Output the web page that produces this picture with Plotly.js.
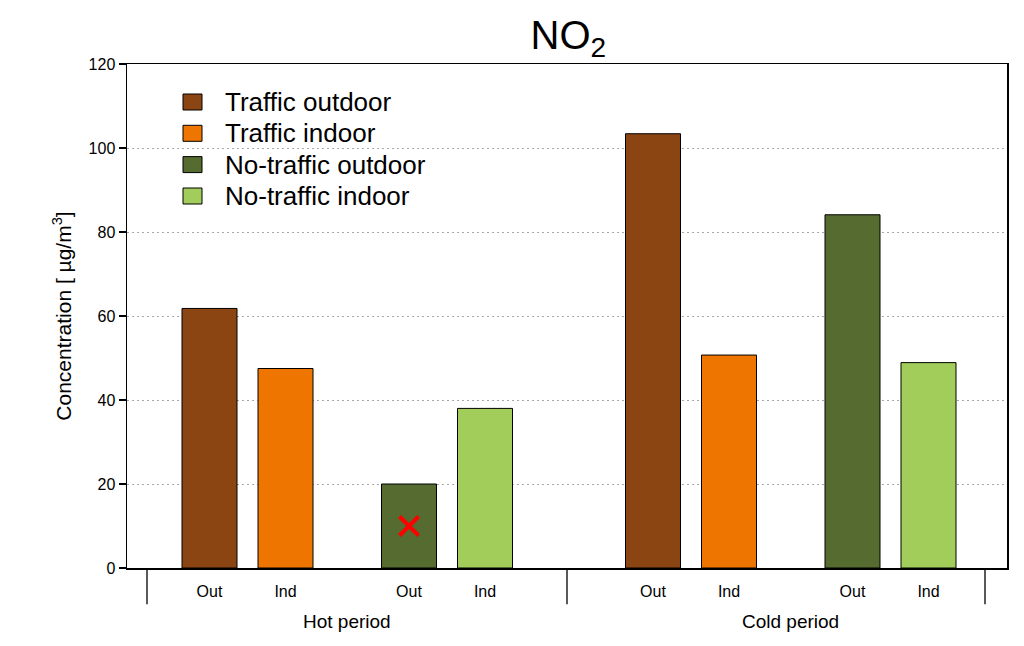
<!DOCTYPE html>
<html>
<head>
<meta charset="utf-8">
<script src="https://cdn.plot.ly/plotly-3.0.1.min.js"></script>
<style>html,body{margin:0;padding:0;background:#fff;}#chart{width:1024px;height:646px;}</style>
</head>
<body>
<div id="chart"></div>
<script>
// ---- data ----
var periods = ["Hot period", "Cold period"];
var seriesNames = ["Traffic outdoor", "Traffic indoor", "No-traffic outdoor", "No-traffic indoor"];
var tickLabels = ["Out", "Ind", "Out", "Ind"];
var trafficOutdoor = [61.8, 103.4];
var trafficIndoor = [47.5, 50.7];
var noTrafficOutdoor = [20.0, 84.1];
var noTrafficIndoor = [38.0, 48.9];
var markerValue = [10.0]; // red cross in hot-period no-traffic outdoor
var colors = ["#8B4513", "#EE7600", "#556B2F", "#A2CD5A"];

// ---- layout helpers (positions in axis units) ----
var X0 = 82.5, GROUP = 443.5, SUB = 199.5, ITEM = 76, BARW = 55;
function pos(g, s, i) { return X0 + g * GROUP + s * SUB + i * ITEM; }
var allSeries = [trafficOutdoor, trafficIndoor, noTrafficOutdoor, noTrafficIndoor];

var traces = [];
allSeries.forEach(function (vals, k) {
  var s = Math.floor(k / 2), i = k % 2;
  traces.push({
    type: "bar",
    x: periods.map(function (p, g) { return pos(g, s, i); }),
    y: vals,
    width: BARW,
    marker: { color: colors[k], line: { color: "#000", width: 1 } },
    name: seriesNames[k],
    showlegend: false,
    hoverinfo: "y"
  });
});
traces.push({
  type: "scatter", mode: "markers",
  x: [pos(0, 1, 0)], y: markerValue, showlegend: false,
  marker: { symbol: "x-thin", size: 19, color: "#ff0000", line: { color: "#ff0000", width: 4 } },
  hoverinfo: "y"
});

var tickvals = [], ticktext = [];
for (var g = 0; g < 2; g++) for (var s = 0; s < 2; s++) for (var i = 0; i < 2; i++) {
  tickvals.push(pos(g, s, i)); ticktext.push(tickLabels[s * 2 + i]);
}

// plot area geometry for paper coordinates
var PL = 127, PW = 880, PB = 568, PH = 504;
function px(x) { return (x - PL) / PW; }
function py(y) { return (PB - y) / PH; }

var separators = [20, 440, 858];
var shapes = separators.map(function (x) {
  return { type: "line", xref: "x", yref: "paper", x0: x, x1: x, y0: 0, y1: -0.072,
           line: { color: "#000", width: 1.3 } };
});
var groupCenters = [(pos(0,0,0) + pos(0,1,1)) / 2, (pos(1,0,0) + pos(1,1,1)) / 2];
var annotations = periods.map(function (p, g) {
  return { text: p, xref: "x", yref: "paper", x: groupCenters[g], y: py(621), yanchor: "middle",
           showarrow: false, font: { size: 19, color: "#000" } };
});

// manual legend (inside plot, top-left)
var legendRows = [102, 133.3, 164.6, 196];
seriesNames.forEach(function (n, k) {
  var cy = legendRows[k];
  shapes.push({ type: "rect", xref: "paper", yref: "paper",
    x0: px(183), x1: px(202), y0: py(cy + 8), y1: py(cy - 8),
    fillcolor: colors[k], line: { color: "#000", width: 1 } });
  annotations.push({ text: n, xref: "paper", yref: "paper", x: px(223), y: py(cy),
    xanchor: "left", yanchor: "middle", showarrow: false, font: { size: 26, color: "#000" } });
});

var layout = {
  width: 1024, height: 646,
  margin: { l: 127, r: 17, t: 64, b: 78 },
  paper_bgcolor: "#fff", plot_bgcolor: "#fff",
  font: { family: "Liberation Sans, Arial, sans-serif", color: "#000", size: 16 },
  title: { text: "NO<sub>2</sub>", font: { size: 40, color: "#000" }, x: 0.555, xanchor: "center",
           y: 0.946, yanchor: "middle" },
  barmode: "overlay",
  showlegend: false,
  xaxis: {
    range: [0, 880], tickvals: tickvals, ticktext: ticktext, ticks: "",
    showline: true, mirror: true, linecolor: "#000", linewidth: 1.5,
    showgrid: false, zeroline: false, ticklabelstandoff: 8,
    tickfont: { size: 16 }
  },
  yaxis: {
    range: [0, 120], dtick: 20, ticks: "outside", ticklen: 7, tickcolor: "#000", tickwidth: 1.3,
    showline: true, mirror: true, linecolor: "#000", linewidth: 1.5,
    showgrid: true, gridcolor: "#a8a8a8", griddash: "2px,3px", gridwidth: 1, zeroline: false,
    tickfont: { size: 16 },
    title: { text: "Concentration [ µg/m<sup>3</sup>]", font: { size: 21 }, standoff: 11 }
  },
  shapes: shapes,
  annotations: annotations
};

Plotly.newPlot("chart", traces, layout, { displayModeBar: false, staticPlot: true });
</script>
</body>
</html>
